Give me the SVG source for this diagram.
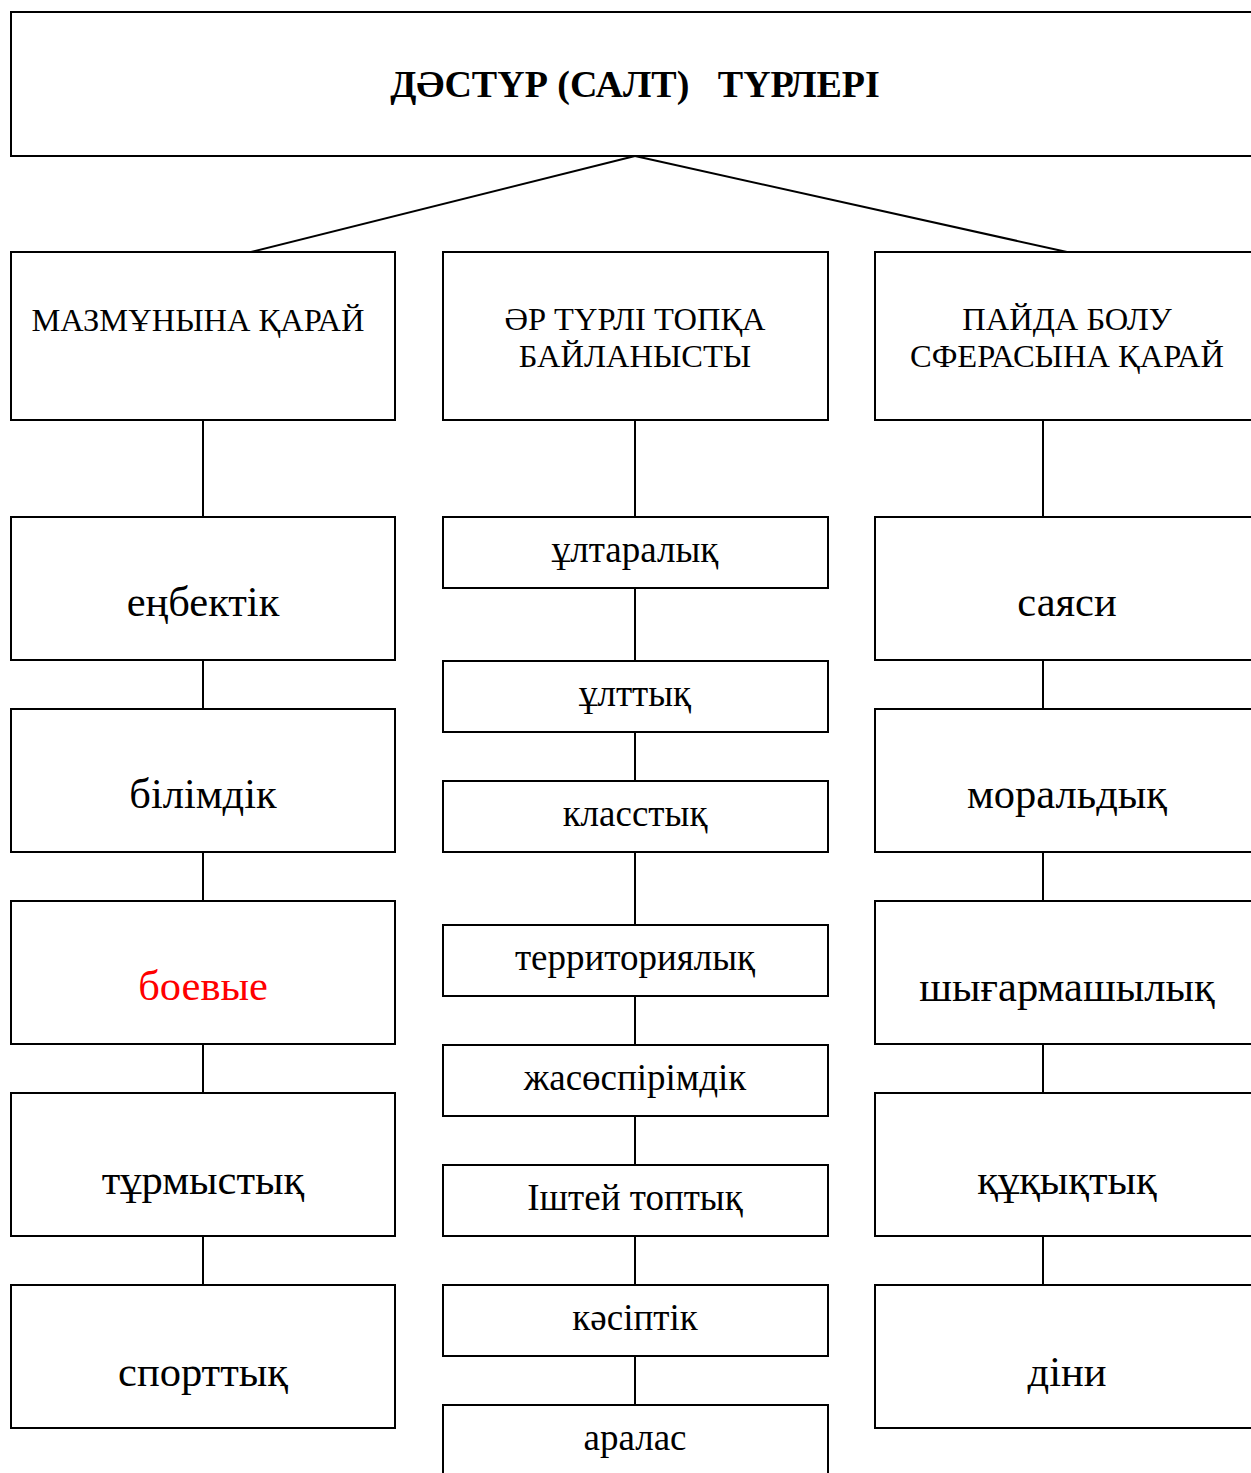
<svg xmlns="http://www.w3.org/2000/svg" width="1251" height="1473" viewBox="0 0 1251 1473">
<style>
.b{fill:#fff;stroke:#000;stroke-width:2}
line{stroke:#000;stroke-width:2}
text{font-family:"Liberation Serif","Times New Roman",serif;text-anchor:middle;fill:#000}
.t{font-size:38px;font-weight:bold}
.h{font-size:32.5px}
.l{font-size:42.5px}
.m{font-size:37px}
</style>
<rect width="1251" height="1473" fill="#fff"/>
<g id="connectors">
<line x1="635" y1="156" x2="251" y2="252"/>
<line x1="635" y1="156" x2="1067" y2="252"/>
<line x1="203" y1="420" x2="203" y2="1285"/>
<line x1="635" y1="420" x2="635" y2="1405"/>
<line x1="1043" y1="420" x2="1043" y2="1285"/>
</g>
<g id="n-title"><rect class="b" x="11" y="12" width="1250" height="144"/><text class="t" x="635" y="97" xml:space="preserve">ДӘСТҮР (САЛТ)   ТҮРЛЕРІ</text></g>
<g id="n-h1"><rect class="b" x="11" y="252" width="384" height="168"/><text class="h" x="198" y="331">МАЗМҰНЫНА ҚАРАЙ</text></g>
<g id="n-h2"><rect class="b" x="443" y="252" width="385" height="168"/><text class="h" x="635" y="330">ӘР ТҮРЛІ ТОПҚА</text><text class="h" x="635" y="367">БАЙЛАНЫСТЫ</text></g>
<g id="n-h3"><rect class="b" x="875" y="252" width="386" height="168"/><text class="h" x="1067" y="330">ПАЙДА БОЛУ</text><text class="h" x="1067" y="367">СФЕРАСЫНА ҚАРАЙ</text></g>
<g id="n-l1"><rect class="b" x="11" y="517" width="384" height="143"/><text class="l" x="203" y="616">еңбектік</text></g>
<g id="n-l2"><rect class="b" x="11" y="709" width="384" height="143"/><text class="l" x="203" y="808">білімдік</text></g>
<g id="n-l3"><rect class="b" x="11" y="901" width="384" height="143"/><text class="l" x="203" y="1000" style="fill:#f00">боевые</text></g>
<g id="n-l4"><rect class="b" x="11" y="1093" width="384" height="143"/><text class="l" x="203" y="1194">тұрмыстық</text></g>
<g id="n-l5"><rect class="b" x="11" y="1285" width="384" height="143"/><text class="l" x="203" y="1386">спорттық</text></g>
<g id="n-m1"><rect class="b" x="443" y="517" width="385" height="71"/><text class="m" x="635" y="562">ұлтаралық</text></g>
<g id="n-m2"><rect class="b" x="443" y="661" width="385" height="71"/><text class="m" x="635" y="706">ұлттық</text></g>
<g id="n-m3"><rect class="b" x="443" y="781" width="385" height="71"/><text class="m" x="635" y="826">класстық</text></g>
<g id="n-m4"><rect class="b" x="443" y="925" width="385" height="71"/><text class="m" x="635" y="970">территориялық</text></g>
<g id="n-m5"><rect class="b" x="443" y="1045" width="385" height="71"/><text class="m" x="635" y="1090">жасөспірімдік</text></g>
<g id="n-m6"><rect class="b" x="443" y="1165" width="385" height="71"/><text class="m" x="635" y="1210">Іштей топтық</text></g>
<g id="n-m7"><rect class="b" x="443" y="1285" width="385" height="71"/><text class="m" x="635" y="1330">кәсіптік</text></g>
<g id="n-m8"><rect class="b" x="443" y="1405" width="385" height="80"/><text class="m" x="635" y="1450">аралас</text></g>
<g id="n-r1"><rect class="b" x="875" y="517" width="386" height="143"/><text class="l" x="1067" y="616">саяси</text></g>
<g id="n-r2"><rect class="b" x="875" y="709" width="386" height="143"/><text class="l" x="1067" y="808">моральдық</text></g>
<g id="n-r3"><rect class="b" x="875" y="901" width="386" height="143"/><text class="l" x="1067" y="1001">шығармашылық</text></g>
<g id="n-r4"><rect class="b" x="875" y="1093" width="386" height="143"/><text class="l" x="1067" y="1194">құқықтық</text></g>
<g id="n-r5"><rect class="b" x="875" y="1285" width="386" height="143"/><text class="l" x="1067" y="1386">діни</text></g>
</svg>
